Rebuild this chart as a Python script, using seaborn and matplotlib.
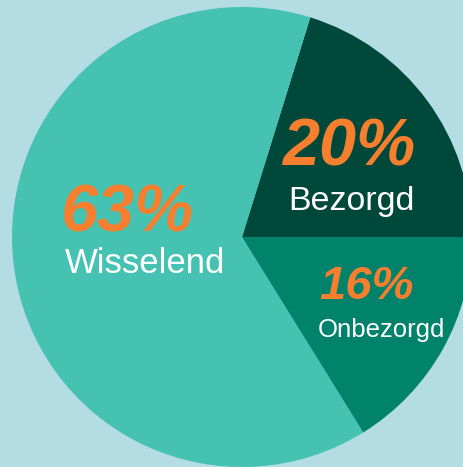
import matplotlib
matplotlib.use('Agg')
import matplotlib.pyplot as plt
import seaborn as sns

# slice data (counter-clockwise from 3 o'clock)
labels = ['Bezorgd', 'Wisselend', 'Onbezorgd']
values = [20, 63, 16]
colors = ['#00483a', '#45c2b1', '#00836a']

bg = '#b3dce3'
orange = '#f57f2f'

sns.set_theme(style='white')
plt.rcParams['font.family'] = ['Liberation Sans', 'DejaVu Sans']

W, H = 463, 467
fig = plt.figure(figsize=(W / 100, H / 100), dpi=100, facecolor=bg)
ax = fig.add_axes([0, 0, 1, 1])
ax.set_facecolor(bg)

ax.pie(values, colors=colors, startangle=0, counterclock=True,
       center=(242, H - 237), radius=230,
       wedgeprops={'linewidth': 0})
ax.set_xlim(0, W)
ax.set_ylim(0, H)
ax.set_aspect('equal')
ax.axis('off')

# label positions in pixel coordinates (x, baseline y from top, size)
pct_pos = {'Bezorgd': (282, 165, 48), 'Wisselend': (61, 232, 48), 'Onbezorgd': (319, 299, 34)}
name_pos = {'Bezorgd': (288, 210, 24.5), 'Wisselend': (65, 273, 25), 'Onbezorgd': (318, 337, 18.5)}

for lab, val in zip(labels, values):
    x, y, fs = pct_pos[lab]
    ax.text(x, H - y, f'{val}%', color=orange, fontsize=fs, fontweight='bold',
            fontstyle='italic', ha='left', va='baseline')
    x, y, fs = name_pos[lab]
    ax.text(x, H - y, lab, color='white', fontsize=fs, fontweight='light',
            ha='left', va='baseline')

fig.savefig('out.png', dpi=100, facecolor=bg)
